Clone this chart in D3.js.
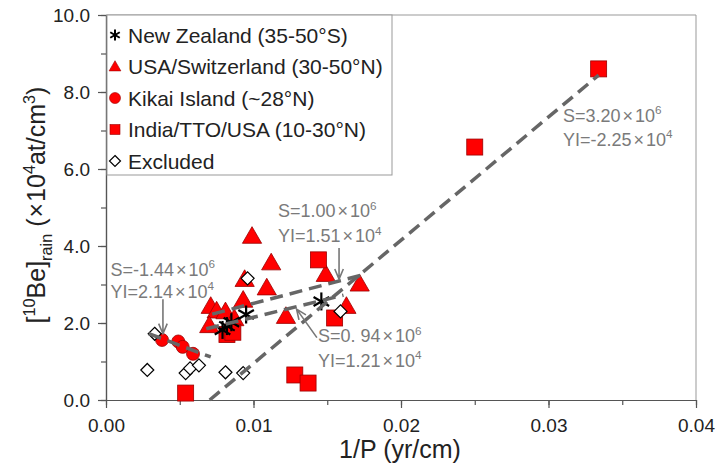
<!DOCTYPE html>
<html>
<head>
<meta charset="utf-8">
<script src="https://cdn.jsdelivr.net/npm/d3@7"></script>
<style>
body { margin: 0; background: #fff; }
text { font-family: Arial, "Liberation Sans", sans-serif; }
</style>
</head>
<body>
<script>
var w = 719;
var h = 467;

// New Zealand (stars)
var nzX = [0.0079, 0.0082, 0.0085, 0.0095, 0.0146];
var nzY = [1.82, 1.92, 2.02, 2.22, 2.56];

// USA/Switzerland (triangles)
var usX = [0.0071, 0.0075, 0.0081, 0.0070, 0.0087, 0.0093, 0.0094, 0.0099, 0.0109, 0.0112, 0.0122, 0.0149, 0.0163, 0.0172];
var usY = [2.42, 2.30, 2.28, 1.92, 2.10, 2.58, 3.12, 4.24, 2.90, 3.55, 2.16, 3.25, 2.42, 3.00];

// Kikai Island (circles)
var kiX = [0.0038, 0.0049, 0.0052, 0.0059];
var kiY = [1.56, 1.52, 1.38, 1.20];

// India/TTO/USA (squares)
var inX = [0.0054, 0.0082, 0.0086, 0.0128, 0.0137, 0.0144, 0.0155, 0.0250, 0.0334];
var inY = [0.18, 1.70, 1.76, 0.65, 0.44, 3.64, 2.13, 6.57, 8.60];

// Excluded (diamonds)
var exX = [0.0028, 0.0033, 0.0054, 0.0057, 0.0063, 0.0081, 0.0093, 0.0096, 0.0159];
var exY = [0.78, 1.72, 0.70, 0.82, 0.90, 0.72, 0.70, 3.16, 2.30];

// regression lines: slope (x10^4), intercept (x10^4), x range
var fitS = [320, 100, 94, -144];
var fitI = [-2.25, 1.51, 1.21, 2.14];
var fitX0 = [0.00703, 0.0072, 0.0068, 0.0029];
var fitX1 = [0.0334, 0.0175, 0.0161, 0.0071];

var fitLabelS = ["S=3.20", "S=1.00", "S=-1.44", "S=0. 94"];
var fitLabelI = ["YI=-2.25", "YI=1.51", "YI=2.14", "YI=1.21"];

var xTicks = [0, 0.01, 0.02, 0.03, 0.04];
var yTicks = [0, 2, 4, 6, 8, 10];
var legendNames = ["New Zealand (35-50°S)", "USA/Switzerland (30-50°N)", "Kikai Island (~28°N)", "India/TTO/USA (10-30°N)", "Excluded"];

var svg = d3.select("body").append("svg")
  .attr("width", w)
  .attr("height", h);

var x = d3.scaleLinear().domain([0, 0.04]).range([106, 696]);
var y = d3.scaleLinear().domain([0, 10]).range([400, 15]);

// frame top/right
svg.append("path")
  .attr("d", "M" + x(0) + "," + y(10) + "H" + x(0.04) + "V" + y(0))
  .attr("fill", "none").attr("stroke", "#999").attr("stroke-width", 1);

// minor ticks
svg.append("g").attr("transform", "translate(0," + y(0) + ")")
  .call(d3.axisBottom(x).tickValues(d3.range(0, 0.0401, 0.005)).tickSize(5).tickFormat("").tickSizeOuter(0));
svg.append("g").attr("transform", "translate(" + x(0) + ",0)")
  .call(d3.axisLeft(y).tickValues(d3.range(0, 10.1, 1)).tickSize(5).tickFormat("").tickSizeOuter(0));

// major axes
svg.append("g").attr("transform", "translate(0," + y(0) + ")")
  .call(d3.axisBottom(x).tickValues(xTicks).tickFormat(d3.format(".2f")).tickSize(8).tickPadding(11).tickSizeOuter(0));
svg.append("g").attr("transform", "translate(" + x(0) + ",0)")
  .call(d3.axisLeft(y).tickValues(yTicks).tickFormat(d3.format(".1f")).tickSize(8).tickPadding(8).tickSizeOuter(0));

svg.selectAll(".domain, .tick line").attr("stroke", "#555").attr("stroke-width", 1.2);
svg.selectAll(".tick text").style("font-size", "19px").style("font-family", "Arial, 'Liberation Sans', sans-serif").attr("fill", "#222");

// rich text helper
function rich(sel, parts, fs) {
  var cur = 0;
  parts.forEach(function(p) {
    var off = p[1] == "sup" ? -0.42 * fs : (p[1] == "sub" ? 0.28 * fs : 0);
    sel.append("tspan")
      .attr("dy", off - cur)
      .attr("dx", p[2] || 0)
      .style("font-size", (p[1] ? fs * 0.65 : fs) + "px")
      .text(p[0]);
    cur = off;
  });
}

// axis titles
var xt = svg.append("text").attr("x", 400).attr("y", 458).attr("text-anchor", "middle").attr("fill", "#222");
rich(xt, [["1/P (yr/cm)", ""]], 25);

var yt = svg.append("text").attr("transform", "translate(45,205) rotate(-90)").attr("text-anchor", "middle").attr("fill", "#222");
rich(yt, [["[", ""], ["10", "sup"], ["Be]", ""], ["rain", "sub"], [" (", ""], ["×", "", 1], ["10", "", 1], ["4", "sup"], ["at/cm", ""], ["3", "sup"], [")", ""]], 25);

// marker shapes
var triPath = d3.symbol().type(d3.symbolTriangle);
function star(g, s, sw) {
  [90, 30, -30].forEach(function(a) {
    var r = a * Math.PI / 180;
    g.append("line")
      .attr("x1", -s * Math.cos(r)).attr("y1", s * Math.sin(r))
      .attr("x2", s * Math.cos(r)).attr("y2", -s * Math.sin(r))
      .attr("stroke", "#000").attr("stroke-width", sw);
  });
}

var red = "#ff0000", redStroke = "#9a0000";

// triangles
svg.append("g").selectAll("path").data(usX).enter().append("path")
  .attr("d", triPath.size(160)())
  .attr("transform", function(d, i) { return "translate(" + x(d) + "," + (y(usY[i]) + 1) + ")"; })
  .attr("fill", red).attr("stroke", redStroke).attr("stroke-width", 0.8);

// squares
svg.append("g").selectAll("rect").data(inX).enter().append("rect")
  .attr("x", function(d) { return x(d) - 8; })
  .attr("y", function(d, i) { return y(inY[i]) - 8; })
  .attr("width", 16).attr("height", 16)
  .attr("fill", red).attr("stroke", redStroke).attr("stroke-width", 0.8);

// circles
svg.append("g").selectAll("circle").data(kiX).enter().append("circle")
  .attr("cx", function(d) { return x(d); })
  .attr("cy", function(d, i) { return y(kiY[i]); })
  .attr("r", 6.5)
  .attr("fill", red).attr("stroke", redStroke).attr("stroke-width", 0.8);

// diamonds
svg.append("g").selectAll("path").data(exX).enter().append("path")
  .attr("d", "M0,-6.5L6.5,0L0,6.5L-6.5,0Z")
  .attr("transform", function(d, i) { return "translate(" + x(d) + "," + y(exY[i]) + ")"; })
  .attr("fill", "#fff").attr("stroke", "#000").attr("stroke-width", 1.2);

// stars
nzX.forEach(function(d, i) {
  var g = svg.append("g").attr("transform", "translate(" + x(d) + "," + y(nzY[i]) + ")");
  star(g, 9, 2.2);
});

// fit lines
var line = d3.line().x(function(d) { return x(d[0]); }).y(function(d) { return y(d[1]); });
fitS.forEach(function(s, i) {
  var pts = [fitX0[i], fitX1[i]].map(function(v) { return [v, s * v + fitI[i]]; });
  svg.append("path").attr("d", line(pts))
    .attr("fill", "none").attr("stroke", "#666").attr("stroke-width", 3.5)
    .attr("stroke-dasharray", "13,7");
});

// fit annotations
var labPos = [[0.03098, 7.22, 6.60], [0.01166, 4.75, 4.10], [0.0003, 3.23, 2.66], [0.01437, 1.50, 0.86]];
fitS.forEach(function(s, i) {
  var t1 = svg.append("text").attr("x", x(labPos[i][0])).attr("y", y(labPos[i][1])).attr("fill", "#7a7a7a");
  rich(t1, [[fitLabelS[i], ""], ["×", "", 2], ["10", "", 2], ["6", "sup"]], 18);
  var t2 = svg.append("text").attr("x", x(labPos[i][0])).attr("y", y(labPos[i][2])).attr("fill", "#7a7a7a");
  rich(t2, [[fitLabelI[i], ""], ["×", "", 2], ["10", "", 2], ["4", "sup"]], 18);
});

// arrows
var arrows = [[0.0158, 3.95, 0.0158, 3.14], [0.00386, 2.62, 0.00386, 1.72], [0.0143, 1.62, 0.01292, 2.36]];
arrows.forEach(function(a) {
  var x1 = x(a[0]), y1 = y(a[1]), x2 = x(a[2]), y2 = y(a[3]);
  var ang = Math.atan2(y2 - y1, x2 - x1);
  var L = 11, da = 0.4;
  svg.append("path")
    .attr("d", "M" + x1 + "," + y1 + "L" + x2 + "," + y2 +
      "M" + (x2 - L * Math.cos(ang - da)) + "," + (y2 - L * Math.sin(ang - da)) +
      "L" + x2 + "," + y2 +
      "L" + (x2 - L * Math.cos(ang + da)) + "," + (y2 - L * Math.sin(ang + da)))
    .attr("fill", "none").attr("stroke", "#777").attr("stroke-width", 1.6);
});

// legend
var lg = svg.append("g");
lg.append("rect").attr("x", 107).attr("y", 15).attr("width", 285).attr("height", 160)
  .attr("fill", "#fff").attr("stroke", "#999").attr("stroke-width", 1);
legendNames.forEach(function(name, i) {
  var cy = 35 + i * 31.5;
  var g = lg.append("g").attr("transform", "translate(115," + cy + ")");
  if (i == 0) star(g, 5.5, 2);
  if (i == 1) g.append("path").attr("d", triPath.size(60)()).attr("transform", "translate(0,1)").attr("fill", red).attr("stroke", redStroke).attr("stroke-width", 0.6);
  if (i == 2) g.append("circle").attr("r", 5.5).attr("fill", red).attr("stroke", redStroke).attr("stroke-width", 0.6);
  if (i == 3) g.append("rect").attr("x", -5).attr("y", -5).attr("width", 10).attr("height", 10).attr("fill", red).attr("stroke", redStroke).attr("stroke-width", 0.6);
  if (i == 4) g.append("path").attr("d", "M0,-5.5L5.5,0L0,5.5L-5.5,0Z").attr("fill", "#fff").attr("stroke", "#000").attr("stroke-width", 1.2);
  lg.append("text").attr("x", 128).attr("y", cy + 7.5)
    .style("font-size", "21px").attr("fill", "#222").text(name);
});
</script>
</body>
</html>
